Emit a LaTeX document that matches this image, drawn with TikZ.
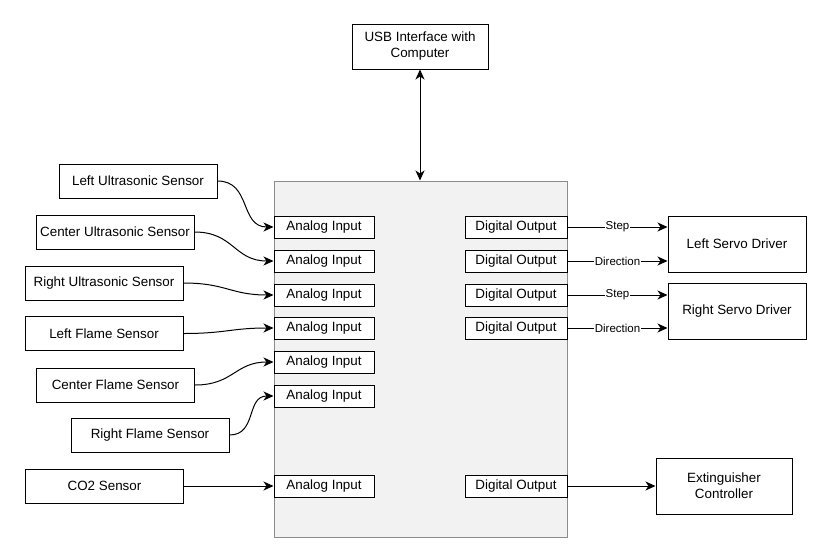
\documentclass[tikz,border=0pt]{standalone}
\usepackage{fontspec}
\setmainfont{Liberation Sans}
\usetikzlibrary{arrows.meta}
\begin{document}
\begin{tikzpicture}[x=1pt,y=-1pt,
 box/.style={draw=black, fill=white, line width=1pt, inner sep=0pt, font=\fontsize{13.4}{16}\selectfont, align=center},
 sensor/.style={box, minimum width=158pt, minimum height=34pt},
 port/.style={box, minimum height=22pt},
 ain/.style={port, minimum width=100pt},
 dout/.style={port, minimum width=102pt},
 tip/.tip={Stealth[length=10pt,width=9pt,inset=3pt]},
 conn/.style={line width=1pt, -tip},
 lbl/.style={fill=white, inner sep=1pt, font=\fontsize{11.5}{13}\selectfont}]
\useasboundingbox (0,0) rectangle (815,550);
% main controller box
\node[draw=black!45, fill=black!5, line width=1pt, inner sep=0pt, minimum width=293pt, minimum height=356pt] (mcu) at (420.5,359) {};
% USB
\node[box, minimum width=136pt, minimum height=45pt] (usb) at (420,46.5) {USB Interface with\\Computer};
% analog inputs
\node[ain] (a1) at (324,227) {Analog Input};
\node[ain] (a2) at (324,261) {Analog Input};
\node[ain] (a3) at (324,295) {Analog Input};
\node[ain] (a4) at (324,328) {Analog Input};
\node[ain] (a5) at (324,362) {Analog Input};
\node[ain] (a6) at (324,396) {Analog Input};
\node[ain] (a7) at (324,486) {Analog Input};
% digital outputs
\node[dout] (d1) at (516,227) {Digital Output};
\node[dout] (d2) at (516,261) {Digital Output};
\node[dout] (d3) at (516,295) {Digital Output};
\node[dout] (d4) at (516,328) {Digital Output};
\node[dout] (d5) at (516,486) {Digital Output};
% sensors
\node[sensor] (ls) at (138,181) {Left Ultrasonic Sensor};
\node[sensor] (cus) at (115,232) {Center Ultrasonic Sensor};
\node[sensor] (rus) at (104,283) {Right Ultrasonic Sensor};
\node[sensor] (lf) at (104,333.5) {Left Flame Sensor};
\node[sensor] (cf) at (115.5,385) {Center Flame Sensor};
\node[sensor] (rf) at (150,435) {Right Flame Sensor};
\node[sensor] (co2) at (104.5,486) {CO2 Sensor};
% drivers
\node[box, minimum width=138pt, minimum height=56pt] (lsd) at (737,244) {Left Servo Driver};
\node[box, minimum width=138pt, minimum height=56pt] (rsd) at (737,311) {Right Servo Driver};
\node[box, minimum width=136pt, minimum height=56pt] (ext) at (724,486) {Extinguisher\\Controller};
% connectors
\draw[line width=1pt, tip-tip] (usb.south) -- (usb.south |- mcu.north);
\draw[conn] (ls.east) to[out=0,in=180,looseness=1.2] (a1.west);
\draw[conn] (cus.east) to[out=0,in=180,looseness=1.2] (a2.west);
\draw[conn] (rus.east) to[out=0,in=180,looseness=1.2] (a3.west);
\draw[conn] (lf.east) to[out=0,in=180,looseness=1.2] (a4.west);
\draw[conn] (cf.east) to[out=0,in=180,looseness=1.2] (a5.west);
\draw[conn] (rf.east) to[out=0,in=180,looseness=1.2] (a6.west);
\draw[conn] (co2.east) -- (a7.west);
\draw[conn] (d1.east) -- node[lbl]{Step} (d1.east -| lsd.west);
\draw[conn] (d2.east) -- node[lbl]{Direction} (d2.east -| lsd.west);
\draw[conn] (d3.east) -- node[lbl]{Step} (d3.east -| rsd.west);
\draw[conn] (d4.east) -- node[lbl]{Direction} (d4.east -| rsd.west);
\draw[conn] (d5.east) -- (ext.west);
\end{tikzpicture}
\end{document}
